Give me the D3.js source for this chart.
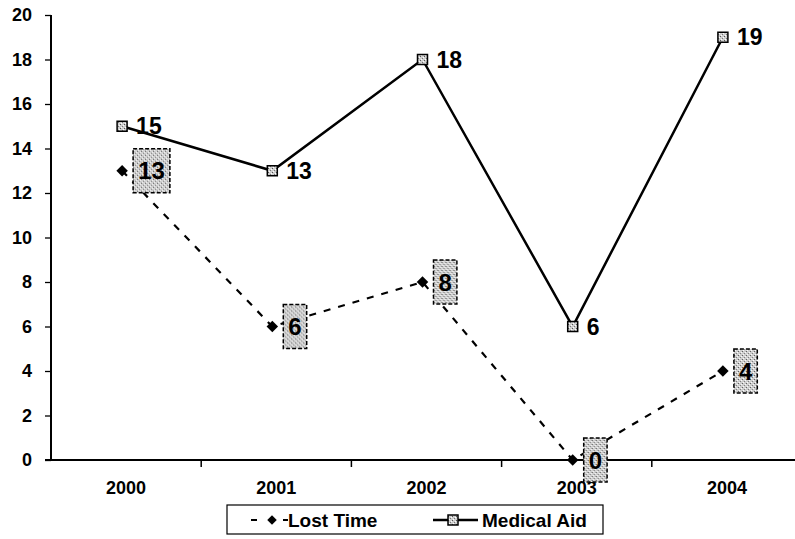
<!DOCTYPE html>
<html>
<head>
<meta charset="utf-8">
<script src="https://cdn.jsdelivr.net/npm/d3@7"></script>
<style>
  body { margin: 0; background: #fff; }
  text { font-family: Arial, "Liberation Sans", sans-serif; font-weight: bold; }
</style>
</head>
<body>
<div id="vis"></div>
<script>
// chart data
const YEARS = ["2000", "2001", "2002", "2003", "2004"];
const MEDICAL_AID = [15, 13, 18, 6, 19];
const LOST_TIME = [13, 6, 8, 0, 4];
const Y_TICKS = [0, 2, 4, 6, 8, 10, 12, 14, 16, 18, 20];

const FRAME_WIDTH = 795;
const FRAME_HEIGHT = 539;
const MARGINS = {left: 51, right: -7, top: 15, bottom: 79};

const FRAME = d3.select("#vis")
                .append("svg")
                    .attr("width", FRAME_WIDTH)
                    .attr("height", FRAME_HEIGHT);

// grey speckled fill
const defs = FRAME.append("defs");
const pat = defs.append("pattern")
                .attr("id", "speck")
                .attr("width", 4)
                .attr("height", 4)
                .attr("patternUnits", "userSpaceOnUse");
pat.append("rect").attr("width", 4).attr("height", 4).attr("fill", "#cfcfcf");
pat.append("rect").attr("x", 0).attr("y", 0).attr("width", 1).attr("height", 1).attr("fill", "#555");
pat.append("rect").attr("x", 2).attr("y", 2).attr("width", 1).attr("height", 1).attr("fill", "#777");
pat.append("rect").attr("x", 3).attr("y", 1).attr("width", 1).attr("height", 1).attr("fill", "#fff");
pat.append("rect").attr("x", 1).attr("y", 3).attr("width", 1).attr("height", 1).attr("fill", "#fff");

const X_SCALE = d3.scaleBand()
                    .domain(YEARS)
                    .range([MARGINS.left, FRAME_WIDTH - MARGINS.right]);

const Y_SCALE = d3.scaleLinear()
                    .domain([0, 20])
                    .range([FRAME_HEIGHT - MARGINS.bottom, MARGINS.top]);

// points sit a little left of band centre
const cx = (i) => X_SCALE(YEARS[i]) + X_SCALE.bandwidth() / 2 - 4;

// y axis
const yAxis = FRAME.append("g")
    .attr("transform", "translate(" + MARGINS.left + ",0)")
    .call(d3.axisLeft(Y_SCALE).tickValues(Y_TICKS).tickSize(6).tickPadding(13));
yAxis.selectAll("text").attr("font-size", "18px").attr("fill", "#000");
yAxis.selectAll("line").attr("stroke", "#000").attr("stroke-width", 1.3);
yAxis.select(".domain").attr("stroke", "#000").attr("stroke-width", 2)
    .attr("d", "M0," + MARGINS.top + "V" + Y_SCALE(0));

// x axis with ticks between categories
const xAxis = FRAME.append("g")
    .attr("transform", "translate(0," + Y_SCALE(0) + ")")
    .call(d3.axisBottom(X_SCALE).tickSize(0).tickPadding(21));
xAxis.selectAll("text").attr("font-size", "18px").attr("fill", "#000");
xAxis.select(".domain").attr("stroke", "#000").attr("stroke-width", 2)
    .attr("d", "M" + (MARGINS.left - 6) + ",0H" + FRAME_WIDTH);
xAxis.selectAll(".sep")
    .data(YEARS.slice(1))
    .enter()
    .append("line")
        .attr("x1", (d) => X_SCALE(d))
        .attr("x2", (d) => X_SCALE(d))
        .attr("y1", 0)
        .attr("y2", 7)
        .attr("stroke", "#000")
        .attr("stroke-width", 1.5);

// lines
const line = (vals) => d3.line()
    .x((d, i) => cx(i))
    .y((d) => Y_SCALE(d))(vals);

FRAME.append("path")
    .attr("d", line(LOST_TIME))
    .attr("fill", "none")
    .attr("stroke", "#000")
    .attr("stroke-width", 2.2)
    .attr("stroke-dasharray", "7,8");

FRAME.append("path")
    .attr("d", line(MEDICAL_AID))
    .attr("fill", "none")
    .attr("stroke", "#000")
    .attr("stroke-width", 2.5);

// lost time diamonds (rotated squares)
const diamond = d3.symbol().type(d3.symbolSquare).size(66);
FRAME.selectAll(".lt")
    .data(LOST_TIME)
    .enter()
    .append("path")
        .attr("d", diamond)
        .attr("transform", (d, i) => "translate(" + cx(i) + "," + Y_SCALE(d) + ") rotate(45)")
        .attr("fill", "#000");

// medical aid squares
FRAME.selectAll(".ma")
    .data(MEDICAL_AID)
    .enter()
    .append("rect")
        .attr("x", (d, i) => cx(i) - 5)
        .attr("y", (d) => Y_SCALE(d) - 5)
        .attr("width", 10)
        .attr("height", 10)
        .attr("fill", "url(#speck)")
        .attr("stroke", "#000")
        .attr("stroke-width", 1.5);

// medical aid labels
FRAME.selectAll(".malab")
    .data(MEDICAL_AID)
    .enter()
    .append("text")
        .attr("x", (d, i) => cx(i) + 14)
        .attr("y", (d) => Y_SCALE(d) + 8)
        .attr("font-size", "23px")
        .text((d) => d);

// lost time labels in boxes
const boxW = (d) => String(d).length * 13.4 + 10;
const ltLab = FRAME.selectAll(".ltlab")
    .data(LOST_TIME)
    .enter()
    .append("g")
        .attr("transform", (d, i) => "translate(" + (cx(i) + 11) + "," + Y_SCALE(d) + ")");

ltLab.append("rect")
    .attr("x", 0)
    .attr("y", -22)
    .attr("width", boxW)
    .attr("height", 44)
    .attr("fill", "url(#speck)")
    .attr("stroke", "#000")
    .attr("stroke-width", 1.5)
    .attr("stroke-dasharray", "4,2");

ltLab.append("text")
    .attr("x", (d) => boxW(d) / 2)
    .attr("y", 8.5)
    .attr("text-anchor", "middle")
    .attr("font-size", "24px")
    .text((d) => d);

// legend
const LEG = FRAME.append("g");
LEG.append("rect")
    .attr("x", 227).attr("y", 505)
    .attr("width", 376).attr("height", 29)
    .attr("fill", "#fff")
    .attr("stroke", "#000")
    .attr("stroke-width", 1.2);

LEG.append("line")
    .attr("x1", 251).attr("x2", 288)
    .attr("y1", 520).attr("y2", 520)
    .attr("stroke", "#000").attr("stroke-width", 2)
    .attr("stroke-dasharray", "6,26");
LEG.append("path")
    .attr("d", d3.symbol().type(d3.symbolSquare).size(45))
    .attr("transform", "translate(272,520) rotate(45)")
    .attr("fill", "#000");
LEG.append("text")
    .attr("x", 288).attr("y", 527)
    .attr("font-size", "19px")
    .text("Lost Time");

LEG.append("line")
    .attr("x1", 433).attr("x2", 478)
    .attr("y1", 520).attr("y2", 520)
    .attr("stroke", "#000").attr("stroke-width", 2.5);
LEG.append("rect")
    .attr("x", 448).attr("y", 515)
    .attr("width", 10).attr("height", 10)
    .attr("fill", "url(#speck)")
    .attr("stroke", "#000")
    .attr("stroke-width", 1.5);
LEG.append("text")
    .attr("x", 482).attr("y", 527)
    .attr("font-size", "19px")
    .text("Medical Aid");
</script>
</body>
</html>
